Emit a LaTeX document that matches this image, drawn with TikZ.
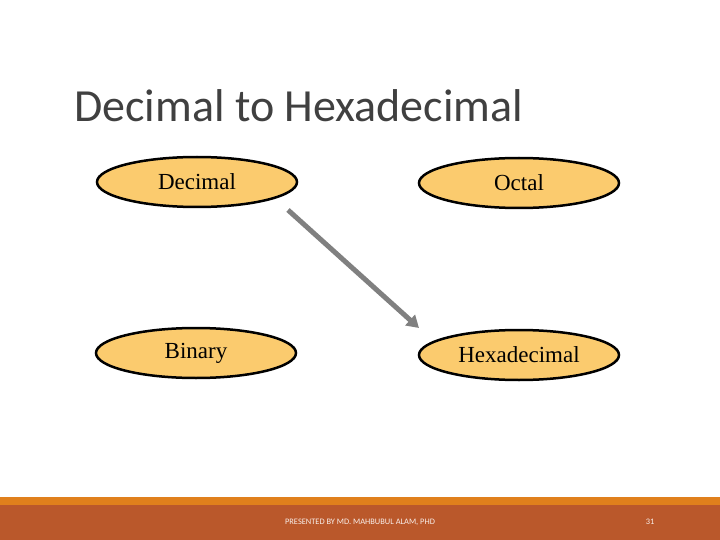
\documentclass[tikz,border=0pt]{standalone}
\usepackage{fontspec}
\setmainfont{Liberation Serif}
\newfontfamily\slidefont{Carlito}
\usetikzlibrary{shapes.geometric,arrows.meta}
\definecolor{numfill}{RGB}{251,203,110}
\definecolor{titlegray}{RGB}{64,64,64}
\definecolor{barorange}{RGB}{224,128,28}
\definecolor{barbrown}{RGB}{186,88,43}
\definecolor{arrowgray}{RGB}{128,128,128}
\begin{document}
\begin{tikzpicture}[x=1pt,y=-1pt,
    numbox/.style={ellipse,draw=black,line width=2.5pt,fill=numfill,
        minimum width=200pt,minimum height=50pt,inner sep=0pt,
        font=\fontsize{23}{26}\selectfont},
    footer/.style={text=white!90!barbrown,inner sep=0pt,
        font=\slidefont\fontsize{8.4}{10}\selectfont}]
    \useasboundingbox (0,0) rectangle (720,540);
    % bottom bar
    \fill[barorange] (0,497) rectangle (720,505);
    \fill[barbrown] (0,505) rectangle (720,540);
    \node[anchor=base west,inner sep=0pt,text=titlegray,
        font=\slidefont\fontsize{46}{52}\selectfont] (title) at (74,122) {Decimal to Hexadecimal};
    % number systems
    \node[numbox] (dec) at (197,182) {Decimal};
    \node[numbox] (oct) at (519,183) {Octal};
    \node[numbox] (bin) at (196,353) {Binary};
    \node[numbox] (hex) at (519,355) {Hexadecimal};
    \coordinate (from) at (288,210);
    \coordinate (to) at (419,328);
    \draw[arrowgray,line width=5pt,-{Triangle[length=12pt,width=14pt]}] (from) -- (to);
    \node[footer] (credit) at (360,522) {PRESENTED BY MD. MAHBUBUL ALAM, PHD};
    \node[footer] (page) at (650,522) {31};
\end{tikzpicture}
\end{document}
